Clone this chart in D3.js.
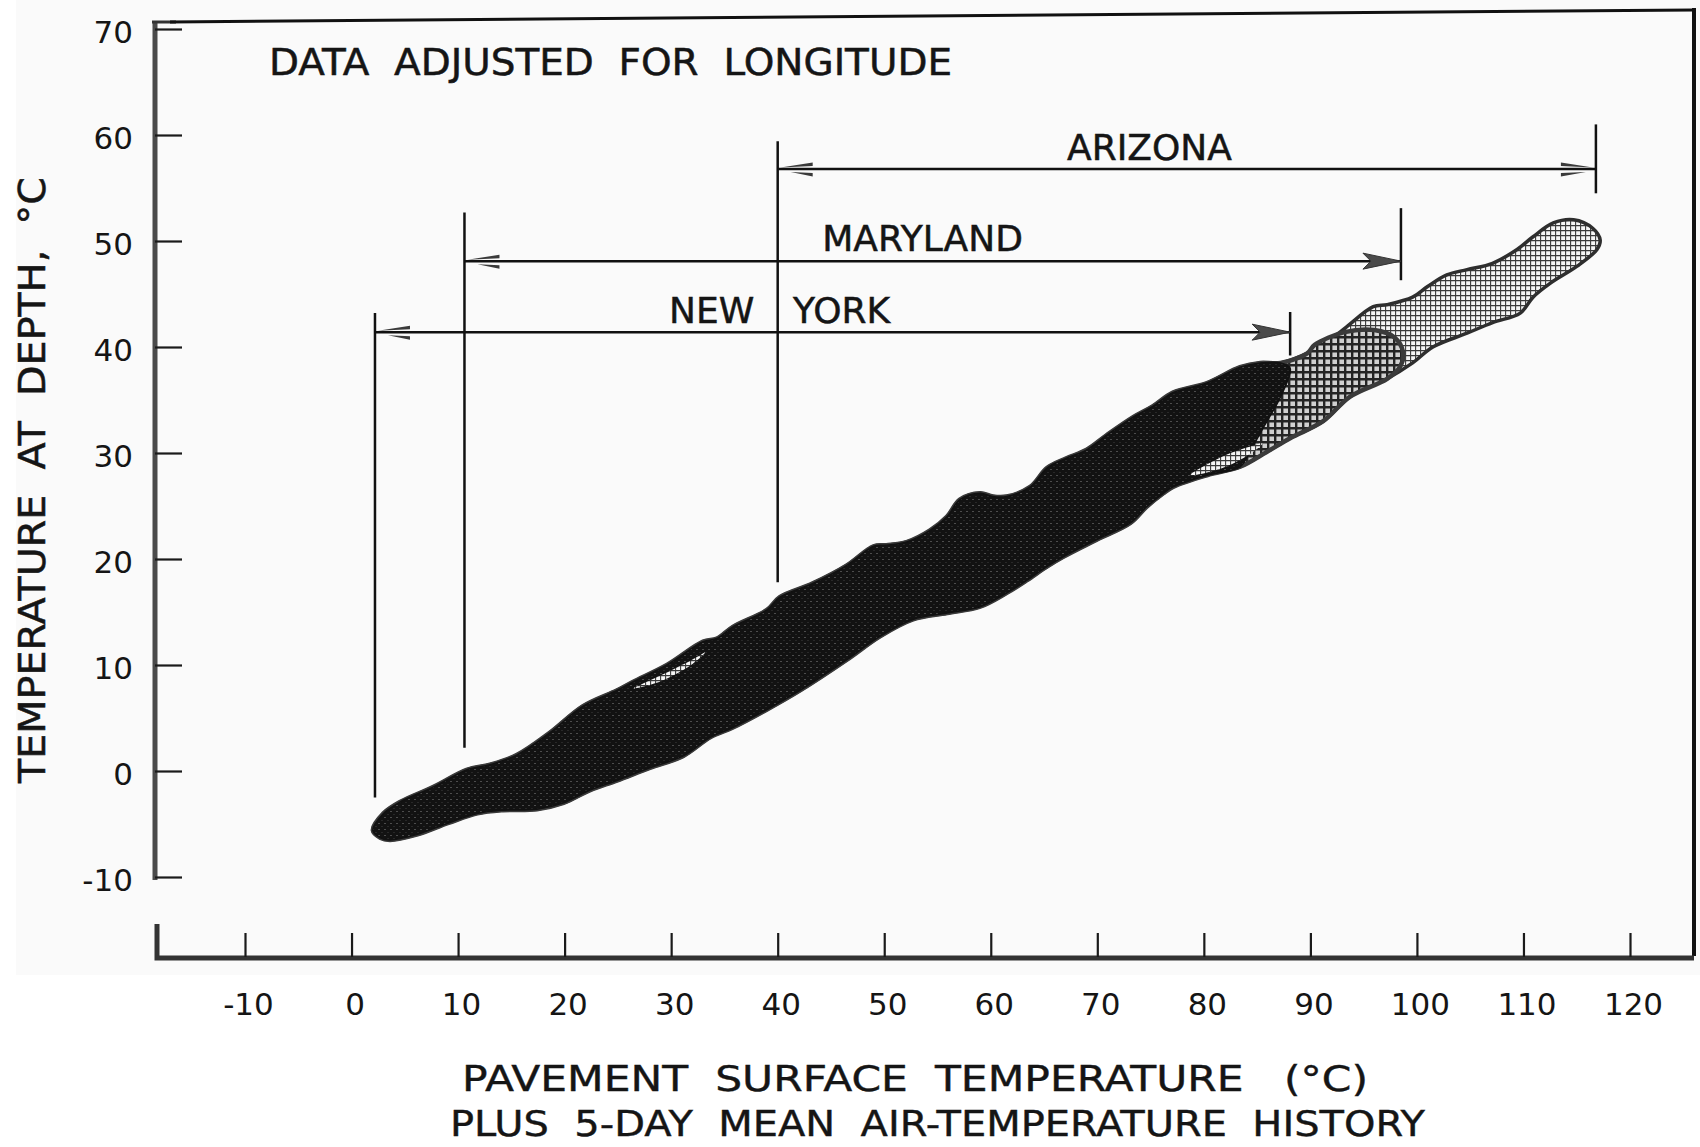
<!DOCTYPE html>
<html>
<head>
<meta charset="utf-8">
<script src="https://cdn.jsdelivr.net/npm/d3@7"></script>
<style>
  html, body { margin: 0; padding: 0; background: #ffffff; }
  svg { display: block; }
  text { font-family: "DejaVu Sans", "Liberation Sans", sans-serif; fill: #151515; white-space: pre; }
</style>
</head>
<body>
<script>
// Depth temperature vs. pavement surface temperature + 5-day mean air temperature.
// Envelope of the observed data, upper and lower boundary (x = surface temp, y = depth temp), °C.
const envelopeTop = [
  [2.0,-5.6],[3.0,-4.0],[4.6,-2.9],[7.7,-1.5],[10.8,0.1],[13.0,0.6],[15.5,1.5],[18.6,3.6],
  [21.7,6.1],[24.9,7.6],[26.4,8.4],[29.6,10.0],[33.0,12.2],[34.3,12.5],[35.8,13.6],[39.0,15.2],
  [40.2,16.4],[43.3,17.7],[46.5,19.4],[49.0,21.2],[50.2,21.3],[52.1,21.6],[54.3,22.7],[55.9,24.0],
  [57.1,25.6],[59.0,26.2],[60.2,25.9],[61.5,25.9],[63.7,26.8],[65.3,28.6],[67.1,29.5],[69.0,30.3],
  [70.9,31.7],[73.4,33.4],[75.2,34.4],[77.1,35.7],[80.3,36.6],[83.4,38.1],[85.3,38.5],[87.2,38.5],
  [89.7,39.4],[91.5,40.4],[93.4,41.9],[95.9,43.8],[97.2,44.0],[99.6,44.7],[101.0,45.7],[102.8,46.8],
  [104.7,47.3],[107.1,47.9],[109.4,49.2],[110.9,50.4],[112.8,51.7],[114.7,52.0],[116.5,51.2],[117.2,50.1]
];
const envelopeBottom = [
  [2.7,-6.3],[3.6,-6.5],[6.1,-6.0],[9.1,-4.9],[11.8,-4.0],[14.2,-3.7],[17.4,-3.6],[19.9,-3.0],
  [22.4,-1.8],[24.9,-0.9],[28.0,0.3],[31.1,1.4],[33.7,3.2],[35.8,4.1],[39.0,5.8],[42.1,7.6],
  [46.5,10.5],[49.6,12.7],[52.7,14.3],[55.9,14.9],[59.0,15.5],[61.5,16.8],[63.4,18.0],[65.3,19.3],
  [66.8,20.2],[69.9,21.8],[73.1,23.4],[74.6,24.9],[76.2,26.2],[77.1,26.8],[80.3,27.9],[83.4,28.7],
  [85.9,30.1],[88.1,31.4],[91.2,33.0],[93.7,35.3],[97.2,37.0],[99.6,38.5],[101.5,40.0],[104.7,41.3],
  [107.1,42.3],[109.7,43.2],[110.9,44.7],[112.5,46.0],[115.0,47.6],[116.9,49.2]
];
// Where the New York and Maryland data end, the envelope is closed off by these caps.
const newYorkCap  = [[88.1,38.0],[87.3,35.5],[85.7,32.6],[84.3,30.1]];
const marylandCap = [[90.4,40.2],[93.2,41.4],[96.0,41.6],[97.9,40.9],[98.7,39.5],[98.4,38.1]];
// Small gaps inside the dark band where only the lighter data show through.
const gapUpper = [[26.5,7.8],[29.0,9.0],[31.8,10.4],[33.2,11.2],[32.0,10.1],[29.1,8.5]];
const gapLower = [[78.7,27.9],[81.8,29.7],[84.3,30.6],[85.5,30.9],[84.6,30.1],[81.8,28.6]];

// Range of surface temperature covered by each state.
const states       = ["NEW YORK", "MARYLAND", "ARIZONA"];
const rangeStart   = [2.2, 10.6, 40.0];
const rangeEnd     = [88.1, 98.5, 116.8];
const rangeLevel   = [41.4, 48.1, 56.8];
const startTickTop = [43.2, 52.7, 59.4];
const startTickBot = [-2.5, 2.2, 17.8];
const endTickTop   = [43.3, 53.1, 61.0];
const endTickBot   = [39.2, 46.3, 54.5];

const xTicks = [-10, 0, 10, 20, 30, 40, 50, 60, 70, 80, 90, 100, 110, 120];
const yTicks = [-10, 0, 10, 20, 30, 40, 50, 60, 70];

const W = 1700, H = 1147;
const svg = d3.select("body").append("svg").attr("width", W).attr("height", H);

const x = d3.scaleLinear().domain([-10, 120]).range([245, 1630]);
const y = d3.scaleLinear().domain([-10, 70]).range([877, 29]);

// Textures: dark stipple, fine light cross-hatch, coarser medium cross-hatch
const defs = svg.append("defs");
const stip = defs.append("pattern").attr("id", "stipple").attr("width", 6).attr("height", 6)
  .attr("patternUnits", "userSpaceOnUse");
stip.append("rect").attr("width", 6).attr("height", 6).attr("fill", "#121212");
stip.append("circle").attr("cx", 1).attr("cy", 1.5).attr("r", 0.55).attr("fill", "#9a9a9a");
stip.append("circle").attr("cx", 4).attr("cy", 4.5).attr("r", 0.45).attr("fill", "#6a6a6a");

const az = defs.append("pattern").attr("id", "azHatch").attr("width", 5).attr("height", 5)
  .attr("patternUnits", "userSpaceOnUse");
az.append("rect").attr("width", 5).attr("height", 5).attr("fill", "#f6f6f6");
az.append("path").attr("d", "M0 0.6H5M0.6 0V5").attr("stroke", "#3a3a3a").attr("stroke-width", 1.1);

const md = defs.append("pattern").attr("id", "mdHatch").attr("width", 7).attr("height", 7)
  .attr("patternUnits", "userSpaceOnUse");
md.append("rect").attr("width", 7).attr("height", 7).attr("fill", "#d0d0d0");
md.append("path").attr("d", "M0 1.2H7M1.2 0V7").attr("stroke", "#242424").attr("stroke-width", 2.4);

// Page tone
svg.append("rect").attr("x", 16).attr("y", 0).attr("width", W - 16).attr("height", 975).attr("fill", "#fafafa");

const area = d3.line().x(d => x(d[0])).y(d => y(d[1])).curve(d3.curveCatmullRomClosed.alpha(0.5));

const ring = (top, cap, bottom) => top.concat(cap, bottom.slice().reverse());

// Full envelope (Arizona extends to the far end)
svg.append("path")
  .attr("d", area(ring(envelopeTop, [], envelopeBottom)))
  .attr("fill", "url(#azHatch)").attr("stroke", "#2e2e2e").attr("stroke-width", 3.5);

// Maryland portion
svg.append("path")
  .attr("d", area(ring(envelopeTop.filter(d => d[0] <= 89.7), marylandCap, envelopeBottom.filter(d => d[0] <= 97.2))))
  .attr("fill", "url(#mdHatch)").attr("stroke", "#3a3a3a").attr("stroke-width", 4.5);

// New York portion (overlap of all three states)
svg.append("path")
  .attr("d", area(ring(envelopeTop.filter(d => d[0] <= 87.2), newYorkCap, envelopeBottom.filter(d => d[0] <= 83.4))))
  .attr("fill", "url(#stipple)").attr("stroke", "#111").attr("stroke-width", 1.5);

[gapUpper, gapLower].forEach(g => {
  svg.append("path").attr("d", area(g)).attr("fill", "url(#azHatch)").attr("stroke", "none");
});

// Plot frame
svg.append("path").attr("d", "M155,22 V880").attr("stroke", "#4a4a4a").attr("stroke-width", 5).attr("fill", "none");
svg.append("path").attr("d", "M152,22 H176").attr("stroke", "#333").attr("stroke-width", 3);
svg.append("path").attr("d", "M170,22 L1694,10").attr("stroke", "#111").attr("stroke-width", 3).attr("fill", "none");
svg.append("path").attr("d", "M1694,8 V956").attr("stroke", "#111").attr("stroke-width", 4).attr("fill", "none");
svg.append("path").attr("d", "M157,924 V958 H1694").attr("stroke", "#333").attr("stroke-width", 5).attr("fill", "none");

// Axes
const gx = svg.append("g").attr("transform", "translate(0,957)")
  .call(d3.axisBottom(x).tickValues(xTicks).tickSizeInner(-24).tickSizeOuter(0).tickPadding(36)
    .tickFormat(d => String(d)));
gx.select(".domain").remove();
gx.selectAll(".tick line").attr("stroke", "#1a1a1a").attr("stroke-width", 2.2);
gx.selectAll(".tick text").attr("font-size", 31).attr("dx", 3)
  .attr("font-family", "DejaVu Sans").attr("fill", "#151515");

const gy = svg.append("g").attr("transform", "translate(155,0)")
  .call(d3.axisLeft(y).tickValues(yTicks).tickSizeInner(-27).tickSizeOuter(0).tickPadding(22)
    .tickFormat(d => String(d)));
gy.select(".domain").remove();
gy.selectAll(".tick line").attr("stroke", "#1a1a1a").attr("stroke-width", 2.2);
gy.selectAll(".tick text").attr("font-size", 31).attr("dy", "0.42em")
  .attr("font-family", "DejaVu Sans").attr("fill", "#151515");

// State ranges: dimension lines with arrowheads
const rng = svg.append("g").attr("stroke", "#111").attr("fill", "none").attr("stroke-width", 2.5);
states.forEach((s, i) => {
  const xs = x(rangeStart[i]), xe = x(rangeEnd[i]), yl = y(rangeLevel[i]);
  rng.append("line").attr("x1", xs).attr("x2", xs).attr("y1", y(startTickTop[i])).attr("y2", y(startTickBot[i]));
  rng.append("line").attr("x1", xe).attr("x2", xe).attr("y1", y(endTickTop[i])).attr("y2", y(endTickBot[i]));
  rng.append("line").attr("x1", xs).attr("x2", xe).attr("y1", yl).attr("y2", yl);
  // open barbs at the start
  svg.append("path").attr("fill", "#3a3a3a")
    .attr("d", `M${xs + 3},${yl - 1.5} L${xs + 35},${yl - 6.5} L${xs + 35},${yl - 3} Z M${xs + 13},${yl + 3} L${xs + 35},${yl + 7.5} L${xs + 35},${yl + 4} Z`);
  if (i < 2) {
    svg.append("path").attr("fill", "#4a4a4a").attr("stroke", "#333").attr("stroke-width", 1)
      .attr("d", `M${xe},${yl} L${xe - 38},${yl - 8} L${xe - 30},${yl} L${xe - 38},${yl + 8} Z`);
  } else {
    svg.append("path").attr("fill", "#3a3a3a")
      .attr("d", `M${xe - 3},${yl - 1.5} L${xe - 35},${yl - 6.5} L${xe - 35},${yl - 3} Z M${xe - 10},${yl + 3} L${xe - 35},${yl + 7.5} L${xe - 35},${yl + 4} Z`);
  }
});

const lbl = (t, cx, cy, size) => svg.append("text").text(t)
  .attr("x", cx).attr("y", cy).attr("text-anchor", "middle").attr("font-size", size)
  .attr("stroke", "#151515").attr("stroke-width", 0.5);

lbl("ARIZONA", x(74.9), y(57.6), 36);
lbl("MARYLAND", x(53.6), y(49.1), 36);
lbl("NEW", x(33.8), y(42.3), 36);
lbl("YORK", x(46.0), y(42.3), 36);

// Titles
svg.append("text").text("DATA  ADJUSTED  FOR  LONGITUDE")
  .attr("x", 269).attr("y", 75).attr("font-size", 37)
  .attr("textLength", 683).attr("lengthAdjust", "spacingAndGlyphs")
  .attr("stroke", "#151515").attr("stroke-width", 0.5);

svg.append("text").text("TEMPERATURE  AT  DEPTH,  °C")
  .attr("transform", "translate(45,480) rotate(-90)")
  .attr("text-anchor", "middle").attr("font-size", 37)
  .attr("textLength", 606).attr("lengthAdjust", "spacingAndGlyphs")
  .attr("stroke", "#151515").attr("stroke-width", 0.5);

svg.append("text").text("PAVEMENT  SURFACE  TEMPERATURE   (°C)")
  .attr("x", 462).attr("y", 1091).attr("font-size", 36)
  .attr("textLength", 906).attr("lengthAdjust", "spacingAndGlyphs")
  .attr("stroke", "#151515").attr("stroke-width", 0.4);

svg.append("text").text("PLUS  5-DAY  MEAN  AIR-TEMPERATURE  HISTORY")
  .attr("x", 450).attr("y", 1136).attr("font-size", 35)
  .attr("textLength", 975).attr("lengthAdjust", "spacingAndGlyphs")
  .attr("stroke", "#151515").attr("stroke-width", 0.4);
</script>
</body>
</html>
